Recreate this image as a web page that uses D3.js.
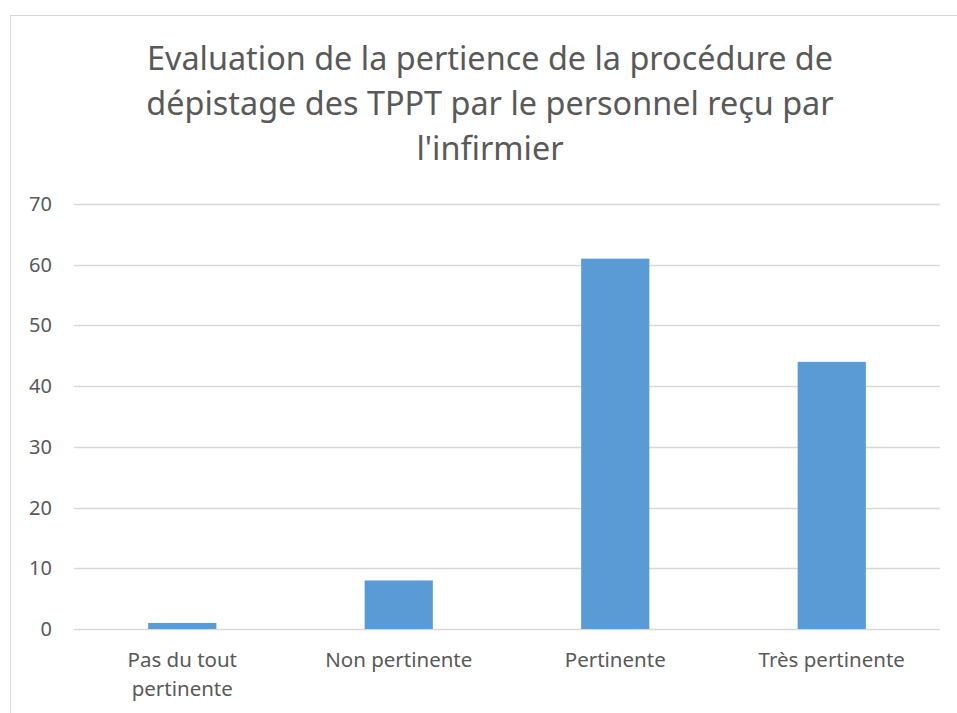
<!DOCTYPE html>
<html><head><meta charset="utf-8">
<script src="https://cdn.jsdelivr.net/npm/d3@7"></script>
<style>body{margin:0;background:#fff;} svg{display:block;}</style>
</head><body>
<svg id="c" width="957" height="713"></svg>
<script>
const categories = ["Pas du tout pertinente", "Non pertinente", "Pertinente", "Très pertinente"];
const categoryLines = [["Pas du tout", "pertinente"], ["Non pertinente"], ["Pertinente"], ["Très pertinente"]];
const values = [1, 8, 61, 44];
const yTicks = [0, 10, 20, 30, 40, 50, 60, 70];
const titleLines = ["Evaluation de la pertience de la procédure de", "dépistage des TPPT par le personnel reçu par", "l'infirmier"];

(function () {
const svg = d3.select("#c");
const font = "'Noto Sans', 'Open Sans', sans-serif";
svg.append("rect").attr("x", 10.5).attr("y", 15.5).attr("width", 960).attr("height", 720)
  .attr("fill", "#fff").attr("stroke", "#d9d9d9").attr("stroke-width", 1);

const pLeft = 74, pRight = 940, pTop = 204, pBottom = 629;
const x = d3.scaleBand().domain(categories).range([pLeft, pRight]).paddingInner(0.685).paddingOuter(0.3425);
const y = d3.scaleLinear().domain([0, 70]).range([pBottom, pTop]);

svg.append("g").selectAll("line").data(yTicks).join("line")
  .attr("x1", pLeft).attr("x2", pRight)
  .attr("y1", d => Math.round(y(d)) + 0.5).attr("y2", d => Math.round(y(d)) + 0.5)
  .attr("stroke", "#d9d9d9").attr("stroke-width", 1.3);

svg.append("g").selectAll("rect").data(values).join("rect")
  .attr("x", (d, i) => x(categories[i])).attr("width", x.bandwidth())
  .attr("y", d => y(d)).attr("height", d => y(0) - y(d))
  .attr("fill", "#5b9bd5");

svg.append("g").selectAll("text").data(yTicks).join("text")
  .attr("x", 52).attr("y", d => y(d) + 7)
  .attr("text-anchor", "end").attr("font-family", font).attr("font-size", 20)
  .attr("fill", "#595959").text(d => d);

const cl = svg.append("g");
categories.forEach((c, i) => {
  categoryLines[i].forEach((ln, j) => {
    cl.append("text").attr("x", x(c) + x.bandwidth() / 2).attr("y", 667 + j * 29)
      .attr("text-anchor", "middle").attr("font-family", font).attr("font-size", 20.5)
      .attr("fill", "#595959").text(ln);
  });
});

svg.append("g").selectAll("text").data(titleLines).join("text")
  .attr("x", 490).attr("y", (d, i) => 70 + i * 45)
  .attr("text-anchor", "middle").attr("font-family", font).attr("font-size", 32.4)
  .attr("fill", "#595959").text(d => d);
})();
</script>
</body></html>
